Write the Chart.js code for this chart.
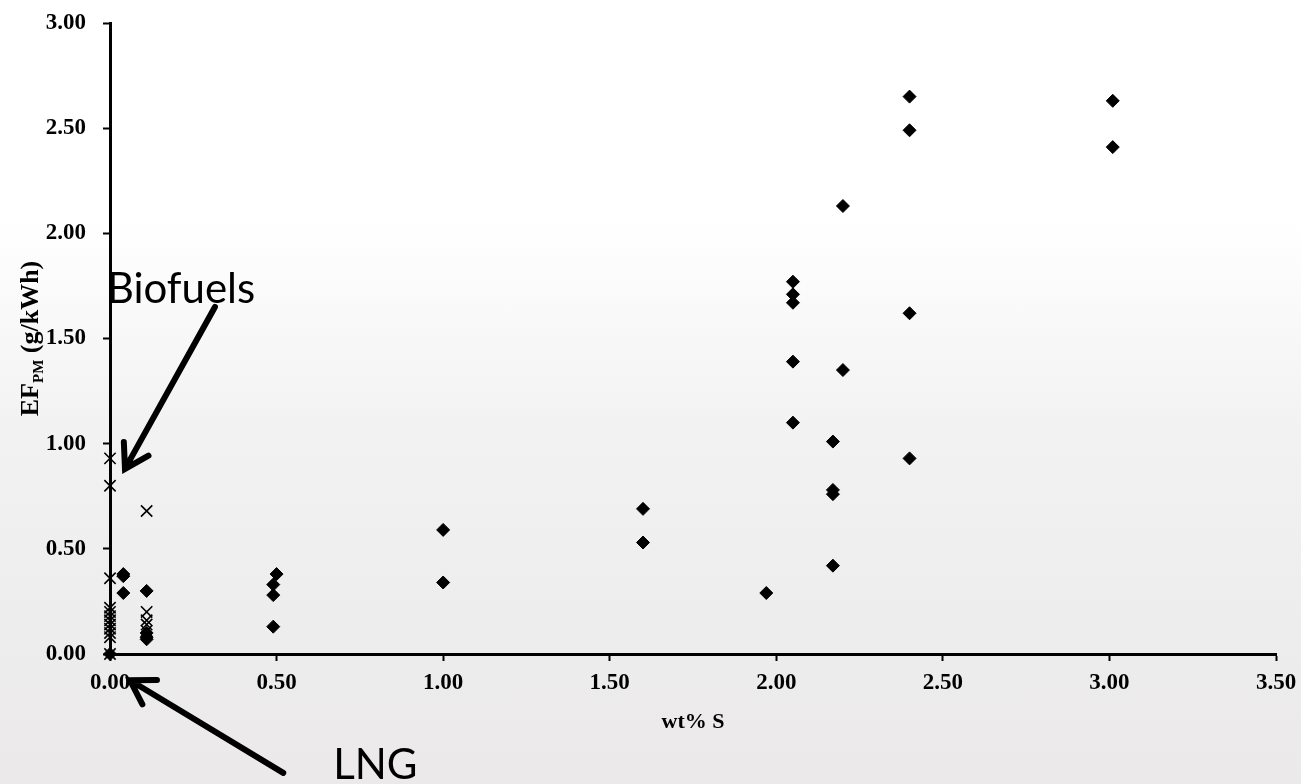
<!DOCTYPE html>
<html>
<head>
<meta charset="utf-8">
<title>EF PM vs wt% S</title>
<script src="https://cdn.jsdelivr.net/npm/chart.js@4.4.1/dist/chart.umd.min.js"></script>
<style>
  html, body {
    margin: 0;
    padding: 0;
  }
  body {
    width: 1301px;
    height: 784px;
    overflow: hidden;
    background: linear-gradient(to bottom, #ffffff 0%, #ffffff 28%, #f3f2f2 55%, #eeeded 80%, #ebe9e9 100%);
  }
  canvas {
    display: block;
  }
</style>
</head>
<body>
<canvas id="chart" width="1301" height="784"></canvas>
<script>
// fuel sulphur content (wt% S) and PM emission factor (g/kWh)
const fuelSulphur = [
  3.01, 3.01,
  2.40, 2.40, 2.40, 2.40,
  2.20, 2.20,
  2.17, 2.17, 2.17, 2.17,
  2.05, 2.05, 2.05, 2.05, 2.05,
  1.97,
  1.60, 1.60,
  1.00, 1.00,
  0.50, 0.49, 0.49, 0.49,
  0.04, 0.04, 0.04,
  0.11, 0.11, 0.11, 0.11,
  0.00
];
const fuelPM = [
  2.63, 2.41,
  2.65, 2.49, 1.62, 0.93,
  2.13, 1.35,
  1.01, 0.78, 0.76, 0.42,
  1.77, 1.71, 1.67, 1.39, 1.10,
  0.29,
  0.69, 0.53,
  0.59, 0.34,
  0.38, 0.33, 0.28, 0.13,
  0.38, 0.37, 0.29,
  0.30, 0.10, 0.08, 0.07,
  0.00
];

// biofuel / low sulphur points (crosses)
const bioSulphur = [
  0.00, 0.00, 0.00, 0.00, 0.00, 0.00, 0.00, 0.00, 0.00, 0.00, 0.00, 0.00,
  0.11, 0.11, 0.11, 0.11, 0.11
];
const bioPM = [
  0.93, 0.80, 0.36, 0.22, 0.20, 0.18, 0.16, 0.14, 0.12, 0.10, 0.08, 0.00,
  0.68, 0.20, 0.16, 0.14, 0.11
];

const xTicks = [0, 0.5, 1, 1.5, 2, 2.5, 3, 3.5];
const yTicks = [0, 0.5, 1, 1.5, 2, 2.5, 3];

// callouts, in data units: [label, textX, textY, arrowFromX, arrowFromY, arrowToX, arrowToY]
const callouts = [
  ["Biofuels", -0.01, 1.67, 0.315, 1.65, 0.045, 0.88],
  ["LNG", 0.67, -0.595, 0.52, -0.565, 0.06, -0.125]
];

const toPoints = (xs, ys) => xs.map((x, i) => ({ x: x, y: ys[i] }));

const serif = "'Liberation Serif', 'Times New Roman', serif";

// y title with a subscript, drawn rotated
const yTitlePlugin = {
  id: "yTitle",
  afterDraw(chart) {
    const ctx = chart.ctx;
    const area = chart.chartArea;
    const big = "bold 26px " + serif;
    const small = "bold 15px " + serif;
    ctx.save();
    ctx.fillStyle = "#000";
    ctx.textBaseline = "alphabetic";
    ctx.font = big;
    const w1 = ctx.measureText("EF").width;
    const w3 = ctx.measureText(" (g/kWh)").width;
    ctx.font = small;
    const w2 = ctx.measureText("PM").width;
    const total = w1 + w2 + w3;
    ctx.translate(38, (area.top + area.bottom) / 2);
    ctx.rotate(-Math.PI / 2);
    let x = -total / 2;
    ctx.font = big;
    ctx.fillText("EF", x, 0);
    x += w1;
    ctx.font = small;
    ctx.fillText("PM", x, 5);
    x += w2;
    ctx.font = big;
    ctx.fillText(" (g/kWh)", x, 0);
    ctx.restore();
  }
};

// arrows and labels for Biofuels / LNG
const calloutPlugin = {
  id: "callouts",
  afterDraw(chart) {
    const ctx = chart.ctx;
    const xs = chart.scales.x;
    const ys = chart.scales.y;
    ctx.save();
    ctx.strokeStyle = "#000";
    ctx.fillStyle = "#000";
    ctx.lineWidth = 6;
    ctx.lineCap = "round";
    ctx.font = "42px Lato, 'Open Sans', sans-serif";
    ctx.textBaseline = "alphabetic";
    callouts.forEach(c => {
      const tx = xs.getPixelForValue(c[1]);
      const ty = ys.getPixelForValue(c[2]);
      const x0 = xs.getPixelForValue(c[3]);
      const y0 = ys.getPixelForValue(c[4]);
      const x1 = xs.getPixelForValue(c[5]);
      const y1 = ys.getPixelForValue(c[6]);
      ctx.fillText(c[0], tx, ty);
      ctx.beginPath();
      ctx.moveTo(x0, y0);
      ctx.lineTo(x1, y1);
      const ang = Math.atan2(y1 - y0, x1 - x0);
      const head = 27;
      ctx.moveTo(x1 - head * Math.cos(ang - 0.55), y1 - head * Math.sin(ang - 0.55));
      ctx.lineTo(x1, y1);
      ctx.lineTo(x1 - head * Math.cos(ang + 0.55), y1 - head * Math.sin(ang + 0.55));
      ctx.stroke();
    });
    ctx.restore();
  }
};

const tickFont = { family: serif, size: 23, weight: "bold" };

new Chart(document.getElementById("chart"), {
  type: "scatter",
  data: {
    datasets: [
      {
        label: "Fuels",
        data: toPoints(fuelSulphur, fuelPM),
        pointStyle: "rectRot",
        pointRadius: 6.5,
        pointHoverRadius: 6.5,
        backgroundColor: "#000",
        borderColor: "#000",
        borderWidth: 1,
        clip: false
      },
      {
        label: "Biofuels",
        data: toPoints(bioSulphur, bioPM),
        pointStyle: "crossRot",
        pointRadius: 8,
        pointHoverRadius: 8,
        backgroundColor: "#000",
        borderColor: "#000",
        borderWidth: 1.6,
        clip: false
      }
    ]
  },
  options: {
    responsive: false,
    animation: false,
    events: [],
    layout: {
      padding: { top: 23, right: 25, left: 0, bottom: 0 }
    },
    plugins: {
      legend: { display: false },
      tooltip: { enabled: false }
    },
    scales: {
      x: {
        type: "linear",
        min: 0,
        max: 3.5,
        afterBuildTicks: scale => {
          scale.ticks = xTicks.map(v => ({ value: v }));
        },
        afterFit: scale => {
          // fixed axis box, labels may overhang the padding
          scale.height = 130;
          scale.paddingLeft = 0;
          scale.paddingRight = 0;
        },
        border: { display: true, color: "#000", width: 3 },
        grid: {
          drawOnChartArea: false,
          drawTicks: true,
          tickLength: 7,
          tickColor: "#000",
          tickWidth: 2
        },
        ticks: {
          color: "#000",
          font: tickFont,
          padding: 8,
          maxRotation: 0,
          callback: v => v.toFixed(2)
        },
        title: {
          display: true,
          text: "wt% S",
          color: "#000",
          font: { family: serif, size: 22, weight: "bold" },
          padding: { top: 14, bottom: 48 }
        }
      },
      y: {
        type: "linear",
        min: 0,
        max: 3,
        afterBuildTicks: scale => {
          scale.ticks = yTicks.map(v => ({ value: v }));
        },
        afterFit: scale => {
          scale.width = 110;
          scale.paddingTop = 0;
          scale.paddingBottom = 0;
        },
        border: { display: true, color: "#000", width: 3 },
        grid: {
          drawOnChartArea: false,
          drawTicks: true,
          tickLength: 7,
          tickColor: "#000",
          tickWidth: 2
        },
        ticks: {
          color: "#000",
          font: tickFont,
          padding: 17,
          callback: v => v.toFixed(2)
        }
      }
    }
  },
  plugins: [yTitlePlugin, calloutPlugin]
});
</script>
</body>
</html>
